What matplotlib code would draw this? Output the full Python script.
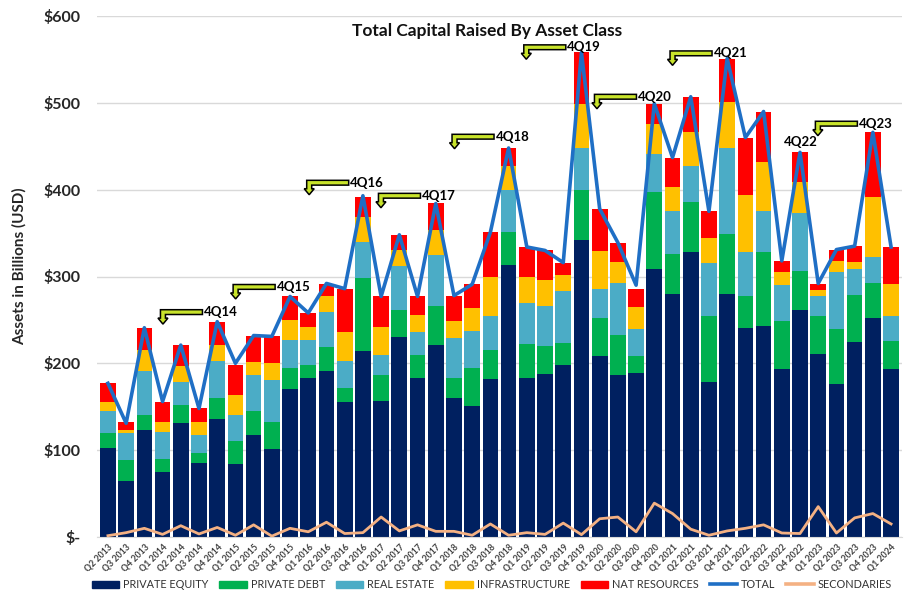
import numpy as np
import matplotlib.pyplot as plt
import matplotlib.transforms as mtransforms
from matplotlib.patches import Polygon, Patch
from matplotlib.lines import Line2D

plt.rcParams['font.family'] = ['Lato', 'DejaVu Sans']

# Quarter labels
quarters = (['Q2 2013', 'Q3 2013', 'Q4 2013'] +
            [f'Q{q} {y}' for y in range(2014, 2024) for q in range(1, 5)] +
            ['Q1 2024'])

# Capital raised by asset class ($bn)
private_equity = [102, 64, 123, 75, 131, 85, 136, 84, 117, 101, 171, 183, 191, 155, 214,
                  157, 230, 183, 221, 160, 151, 182, 313, 183, 188, 198, 342, 208, 186, 189,
                  309, 280, 328, 178, 280, 241, 243, 194, 261, 211, 176, 224, 252, 194]
private_debt = [18, 25, 18, 15, 21, 12, 24, 27, 28, 31, 24, 15, 28, 17, 84,
                29, 31, 27, 45, 23, 44, 33, 38, 39, 32, 25, 58, 44, 47, 19,
                88, 46, 58, 76, 69, 36, 85, 55, 45, 43, 63, 55, 41, 32]
real_estate = [25, 31, 50, 31, 27, 20, 43, 29, 41, 49, 32, 29, 40, 31, 42,
               24, 51, 26, 59, 46, 42, 40, 49, 48, 46, 60, 48, 34, 60, 32,
               44, 49, 41, 62, 99, 51, 48, 41, 67, 24, 66, 30, 30, 29]
infrastructure = [10, 3, 24, 12, 18, 16, 18, 24, 16, 19, 23, 15, 18, 33, 29,
                  32, 19, 20, 29, 20, 27, 44, 27, 29, 30, 19, 51, 43, 24, 25,
                  35, 28, 39, 28, 53, 66, 56, 15, 36, 6, 13, 8, 69, 36]
nat_resources = [22, 9, 26, 23, 24, 15, 27, 34, 29, 31, 27, 16, 14, 50, 23,
                 36, 17, 21, 31, 29, 27, 52, 21, 35, 34, 14, 59, 49, 22, 21,
                 23, 34, 41, 32, 50, 66, 58, 13, 34, 7, 12, 18, 74, 43]
total = [177, 131, 241, 156, 221, 148, 248, 200, 232, 231, 277, 258, 292, 286, 393,
         277, 348, 277, 384, 278, 291, 351, 448, 334, 330, 316, 558, 378, 339, 290,
         499, 437, 507, 375, 551, 460, 490, 318, 443, 292, 331, 335, 466, 334]
secondaries = [1.5, 5, 10, 3, 13, 3.5, 11, 2, 14, 1, 10, 6, 17, 4, 5,
               23, 7, 14, 6.5, 6.5, 2, 15, 2, 5, 3, 16, 2.7, 21, 23, 6,
               39, 27, 9, 2, 7, 10, 14, 4.6, 4, 35, 4.6, 22, 27, 15]

# Call-outs: label, bar index of the arrow's right end, y value
callouts = [('4Q14', 5.19, 259), ('4Q15', 9.18, 288), ('4Q16', 13.22, 408),
            ('4Q17', 17.16, 393), ('4Q18', 21.2, 461), ('4Q19', 25.14, 564),
            ('4Q20', 29.02, 507), ('4Q21', 33.17, 557), ('4Q23', 41.15, 476)]

series = [('PRIVATE EQUITY', private_equity, '#002060'),
          ('PRIVATE DEBT', private_debt, '#00b050'),
          ('REAL ESTATE', real_estate, '#4bacc6'),
          ('INFRASTRUCTURE', infrastructure, '#ffc000'),
          ('NAT RESOURCES', nat_resources, '#ff0000')]

fig = plt.figure(figsize=(9.11, 5.99), dpi=100)
ax = fig.add_axes([97 / 911, 62 / 599, 805 / 911, 521 / 599])

x = np.arange(len(quarters))
bottom = np.zeros(len(quarters))
for name, vals, col in series:
    ax.bar(x, vals, bottom=bottom, width=0.86, color=col, zorder=2)
    bottom += np.array(vals)

ax.plot(x, total, color='#1f6fc5', lw=2.6, zorder=3)
ax.plot(x, secondaries, color='#f4b183', lw=2.0, zorder=3)

ax.set_xlim(-0.6, len(quarters) - 0.4)
ax.set_ylim(0, 600)
ax.set_yticks(range(0, 601, 100))
ax.set_yticklabels(['$-'] + [f'${v}' for v in range(100, 601, 100)],
                   fontsize=11.5, fontweight='bold', color='#262626')
ax.tick_params(axis='y', length=0, pad=12)
ax.set_xticks(x)
ax.set_xticklabels(quarters, rotation=45, ha='right', va='top', rotation_mode='anchor',
                   fontsize=6.3, fontweight='bold', color='#404040')
ax.tick_params(axis='x', length=0, pad=4)
ax.grid(axis='y', color='#d9d9d9', lw=1, zorder=0)
for s in ['top', 'right', 'left']:
    ax.spines[s].set_visible(False)
ax.spines['bottom'].set_color('#d9d9d9')

ax.set_ylabel('Assets in Billions (USD)', fontsize=11, fontweight='bold', color='#262626')
ax.yaxis.set_label_coords(-0.088, 0.52)

fig.text(0.535, 0.948, 'Total Capital Raised By Asset Class', ha='center', va='center',
         fontsize=12.5, fontweight='bold', color='#111111')

# bent call-out arrows
shape = np.array([[0, 2.4], [-42, 2.4], [-42, -6], [-44.5, -6], [-39.5, -12],
                  [-34.5, -6], [-37, -6], [-37, -2.4], [0, -2.4]]) / 100.0
for lab, xi, yv in callouts:
    tr = fig.dpi_scale_trans + mtransforms.ScaledTranslation(xi, yv, ax.transData)
    ax.add_patch(Polygon(shape, closed=True, transform=tr, facecolor='#c8e32b',
                         edgecolor='black', lw=1.1, zorder=5, clip_on=False))
    ax.annotate(lab, (xi, yv), xytext=(1, 0), textcoords='offset points',
                ha='left', va='center', fontsize=9.5, fontweight='bold', zorder=6)
ax.text(38.03, 455, '4Q22', ha='center', va='center', fontsize=9.5, fontweight='bold', zorder=6)

handles = [Patch(color=c) for _, _, c in series] + \
          [Line2D([], [], color='#1f6fc5', lw=2.6), Line2D([], [], color='#f4b183', lw=2.6)]
labels = [n for n, _, _ in series] + ['TOTAL', 'SECONDARIES']
fig.legend(handles, labels, loc='center', bbox_to_anchor=(0.540, 0.024), ncol=7,
           frameon=False, fontsize=7.8, handlelength=2.5, handleheight=0.6,
           columnspacing=1.0, handletextpad=0.4, labelcolor='#333333')

fig.savefig('out.png', dpi=100)
